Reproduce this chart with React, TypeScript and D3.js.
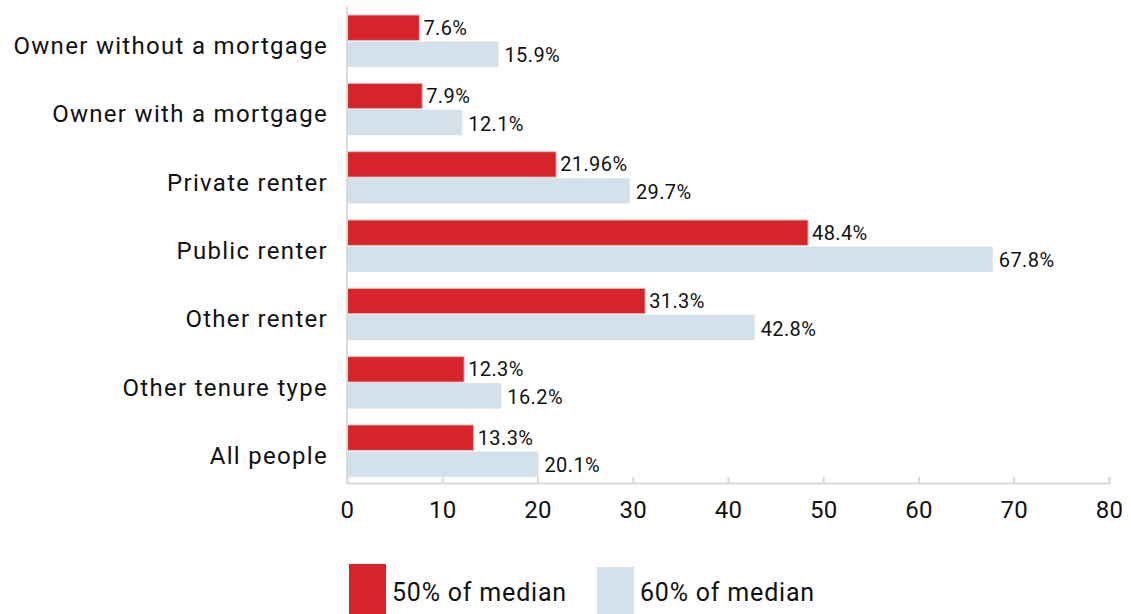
import React, { useEffect, useRef } from "react";
import * as d3 from "d3";

// tenure categories, top to bottom
const categories = [
  "Owner without a mortgage",
  "Owner with a mortgage",
  "Private renter",
  "Public renter",
  "Other renter",
  "Other tenure type",
  "All people",
];

// poverty rates, % of people
const below50 = [7.6, 7.9, 21.96, 48.4, 31.3, 12.3, 13.3];
const below60 = [15.9, 12.1, 29.7, 67.8, 42.8, 16.2, 20.1];
const labels50 = ["7.6%", "7.9%", "21.96%", "48.4%", "31.3%", "12.3%", "13.3%"];
const labels60 = ["15.9%", "12.1%", "29.7%", "67.8%", "42.8%", "16.2%", "20.1%"];

const seriesNames = ["50% of median", "60% of median"];
const xTicks = [0, 10, 20, 30, 40, 50, 60, 70, 80];

const RED = "#d7242b";
const LIGHT = "#d5e1ea";
const FONT = "Roboto, 'DejaVu Sans', sans-serif";
const WEIGHT = 400;

function App() {
  const ref = useRef<SVGSVGElement | null>(null);

  useEffect(() => {
    drawChart();
  }, []);

  const drawChart = () => {
    const svg = d3.select(ref.current);
    svg.selectAll("*").remove();

    const x = d3.scaleLinear().domain([0, 80]).range([347, 1109]);
    const y = d3.scaleBand()
      .domain(categories)
      .range([6.8, 485.1])
      .paddingInner(0.24)
      .paddingOuter(0.12);
    const inner = d3.scaleBand()
      .domain(["a", "b"])
      .range([0, y.bandwidth()])
      .paddingInner(0.04);

    const axisY = 483;

    // bars
    const groups = svg.selectAll("g.grp")
      .data(categories)
      .enter()
      .append("g")
      .attr("class", "grp")
      .attr("transform", d => `translate(0,${y(d)})`);

    groups.append("rect")
      .attr("x", x(0))
      .attr("y", inner("a")!)
      .attr("width", (d, i) => x(below50[i]) - x(0))
      .attr("height", inner.bandwidth())
      .attr("fill", RED)
      .attr("stroke", "#d4c4c4")
      .attr("stroke-width", 1);

    groups.append("rect")
      .attr("x", x(0))
      .attr("y", inner("b")!)
      .attr("width", (d, i) => x(below60[i]) - x(0))
      .attr("height", inner.bandwidth())
      .attr("fill", LIGHT);

    // value labels
    groups.append("text")
      .attr("x", (d, i) => x(below50[i]) + 4)
      .attr("y", inner("a")! + inner.bandwidth() / 2)
      .attr("dominant-baseline", "central")
      .style("font-size", "20px")
      .style("font-weight", WEIGHT)
      .style("letter-spacing", "0.4px")
      .style("font-family", FONT)
      .attr("fill", "#111")
      .text((d, i) => labels50[i]);

    groups.append("text")
      .attr("x", (d, i) => x(below60[i]) + 6)
      .attr("y", inner("b")! + inner.bandwidth() / 2 + 1)
      .attr("dominant-baseline", "central")
      .style("font-size", "20px")
      .style("font-weight", WEIGHT)
      .style("letter-spacing", "0.4px")
      .style("font-family", FONT)
      .attr("fill", "#111")
      .text((d, i) => labels60[i]);

    // category labels
    groups.append("text")
      .attr("x", 328)
      .attr("y", y.bandwidth() / 2 + 5)
      .attr("text-anchor", "end")
      .attr("dominant-baseline", "central")
      .style("font-size", "24px")
      .style("font-weight", WEIGHT)
      .style("letter-spacing", "1.3px")
      .style("font-family", FONT)
      .attr("fill", "#111")
      .text(d => d);

    // axes
    svg.append("line")
      .attr("x1", x(0)).attr("x2", x(0))
      .attr("y1", 7).attr("y2", axisY)
      .attr("stroke", "#d9d9d9").attr("stroke-width", 2);

    const xAxis = svg.append("g")
      .attr("transform", `translate(0,${axisY})`)
      .call(d3.axisBottom(x).tickValues(xTicks).tickSize(-6).tickPadding(18).tickFormat(d3.format("d")));
    xAxis.select(".domain").attr("stroke", "#d9d9d9").attr("stroke-width", 2);
    xAxis.selectAll(".tick line").attr("stroke", "#d9d9d9").attr("stroke-width", 2);
    xAxis.selectAll("text")
      .style("font-size", "24px")
      .style("font-weight", WEIGHT)
      .style("letter-spacing", "0.3px")
      .style("font-family", FONT)
      .attr("fill", "#111");

    // legend
    const legend = [
      { name: seriesNames[0], color: RED, x: 349, y: 564 },
      { name: seriesNames[1], color: LIGHT, x: 597, y: 567 },
    ];
    const lg = svg.selectAll("g.leg")
      .data(legend)
      .enter()
      .append("g")
      .attr("class", "leg");
    lg.append("rect")
      .attr("x", d => d.x)
      .attr("y", d => d.y)
      .attr("width", 37)
      .attr("height", d => 614 - d.y)
      .attr("fill", d => d.color);
    lg.append("text")
      .attr("x", d => d.x + 43)
      .attr("y", 592)
      .attr("dominant-baseline", "central")
      .style("font-size", "25px")
      .style("font-weight", WEIGHT)
      .style("letter-spacing", "0.8px")
      .style("font-family", FONT)
      .attr("fill", "#111")
      .text(d => d.name);
  };

  return (
    <svg
      ref={ref}
      width={1131}
      height={614}
      style={{ position: "absolute", left: 0, top: 0, background: "#fff" }}
    />
  );
}

export default App;
